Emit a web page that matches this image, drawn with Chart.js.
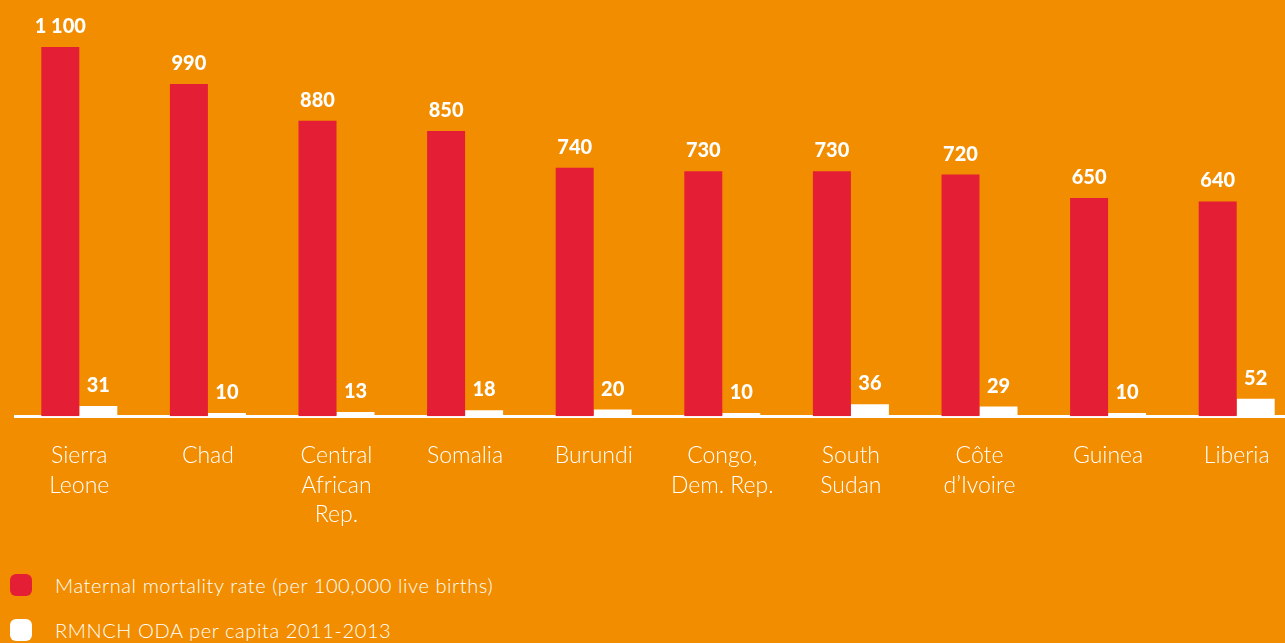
<!DOCTYPE html>
<html>
<head>
<meta charset="utf-8">
<script src="https://cdn.jsdelivr.net/npm/chart.js@4.4.1/dist/chart.umd.min.js"></script>
<style>
  html, body { margin: 0; padding: 0; background: #F28D00; overflow: hidden; }
  .canvas-wrapper { position: absolute; left: 0; top: 0; width: 1301px; height: 554px; }
  .legend { position: absolute; left: 10px; top: 574px; font-family: "Lato", sans-serif; font-weight: 300; color: #fff; font-size: 20px; letter-spacing: 0.6px; }
  .legend div { display: flex; align-items: center; height: 22px; margin-bottom: 23px; }
  .legend span.box { width: 22px; height: 22px; border-radius: 6px; margin-right: 23px; display: inline-block; }
</style>
</head>
<body>
<div class="canvas-wrapper"><canvas id="chart"></canvas></div>
<div class="legend">
  <div><span class="box" style="background:#E41F35"></span>Maternal mortality rate (per 100,000 live births)</div>
  <div><span class="box" style="background:#fff"></span>RMNCH ODA per capita 2011-2013</div>
</div>
<script>
const ORANGE_COLOR = "#F28D00";
const RED_COLOR = "#E41F35";
const WHITE_COLOR = "#FFFFFF";

const countries = [
    ["Sierra", "Leone"],
    ["Chad"],
    ["Central", "African", "Rep."],
    ["Somalia"],
    ["Burundi"],
    ["Congo,", "Dem. Rep."],
    ["South", "Sudan"],
    ["Côte", "d’Ivoire"],
    ["Guinea"],
    ["Liberia"]
];
const maternalMortality = [1100, 990, 880, 850, 740, 730, 730, 720, 650, 640];
const odaPerCapita = [31, 10, 13, 18, 20, 10, 36, 29, 10, 52];

const formatValue = (v) => String(v).replace(/\B(?=(\d{3})+(?!\d))/g, " ");

const valueLabels = {
    id: "valueLabels",
    afterDatasetsDraw(chart) {
        const ctx = chart.ctx;
        ctx.save();
        ctx.fillStyle = WHITE_COLOR;
        ctx.font = "900 20px Lato, sans-serif";
        ctx.textAlign = "center";
        ctx.textBaseline = "alphabetic";
        chart.data.datasets.forEach((ds, i) => {
            chart.getDatasetMeta(i).data.forEach((bar, j) => {
                ctx.fillText(formatValue(ds.data[j]), bar.x, bar.y - 14);
            });
        });
        ctx.restore();
    }
};

new Chart(document.getElementById("chart").getContext("2d"), {
    type: "bar",
    data: {
        labels: countries,
        datasets: [{
            label: "Maternal mortality rate (per 100,000 live births)",
            data: maternalMortality,
            backgroundColor: RED_COLOR,
            categoryPercentage: 0.591,
            barPercentage: 1
        }, {
            label: "RMNCH ODA per capita 2011-2013",
            data: odaPerCapita,
            backgroundColor: WHITE_COLOR,
            categoryPercentage: 0.591,
            barPercentage: 1
        }]
    },
    options: {
        responsive: true,
        maintainAspectRatio: false,
        animation: false,
        layout: { padding: { left: 15, right: 0, top: 0, bottom: 0 } },
        plugins: {
            legend: { display: false },
            tooltip: { enabled: false }
        },
        scales: {
            x: {
                grid: { display: false, drawTicks: false },
                border: { display: true, color: WHITE_COLOR, width: 3 },
                ticks: {
                    color: WHITE_COLOR,
                    padding: 24,
                    maxRotation: 0,
                    autoSkip: false,
                    font: { family: "Lato, sans-serif", size: 23, weight: 300, lineHeight: 1.3 }
                }
            },
            y: {
                display: false,
                min: 0,
                max: 1240
            }
        }
    },
    plugins: [valueLabels]
});
</script>
</body>
</html>
